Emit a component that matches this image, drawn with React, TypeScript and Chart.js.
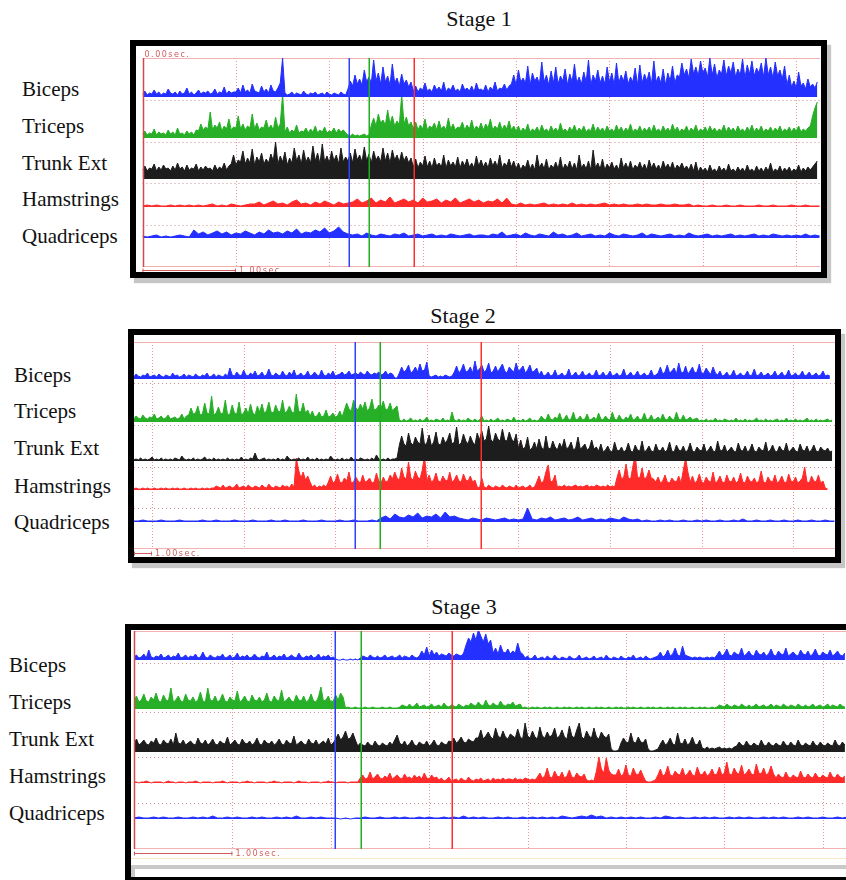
import React, { useEffect, useRef } from "react";
import { Chart, registerables } from "chart.js";

Chart.register(...registerables);

// ---------------- DATA ----------------
const CHANNELS = ["Biceps", "Triceps", "Trunk Ext", "Hamstrings", "Quadriceps"];
const STAGES = ["Stage 1", "Stage 2", "Stage 3"];
// EMG amplitude samples (arbitrary units above each channel's baseline)
const FAST = 0.025; // s between samples for busy channels
const SLOW = 0.05; // s between samples for quiet channels

// ---- Stage 1 (starts at 0.00 s)
const S1_BICEPS = [
  3, 6, 2, 4, 3, 7, 3, 5, 2, 4, 3, 8, 4, 3, 5, 2, 6, 3, 4, 9, 3, 5, 2, 4, 7, 3, 5, 4, 6, 3, 4, 8, 3, 5, 4, 10, 3, 6, 4, 5,
  5, 9, 4, 12, 5, 7, 4, 13, 6, 5, 4, 11, 5, 8, 4, 12, 6, 5, 9, 14,
  39,
  4, 2, 3, 5, 2, 4, 3, 2, 6, 3, 2, 4, 3, 5, 2, 3, 4, 2, 5, 3, 2, 4, 3, 2, 5, 3, 2,
  8, 16, 11, 22, 13, 18, 12, 27, 15, 20, 14, 37, 16, 24, 13, 30, 15, 21, 12, 33, 14, 19, 11, 23, 13, 17, 10, 15,
  6, 11, 5, 9, 7, 14, 6, 8, 5, 12, 7, 10, 6, 15, 5, 9, 7, 12, 6, 8, 5, 13, 7, 9, 6, 11, 5, 14, 7, 8, 6, 12, 5, 10, 7, 15, 6, 9, 8, 13, 7, 11,
  13, 22, 12, 27, 15, 19, 14, 31, 12, 24, 16, 20, 13, 35, 15, 22, 12, 26, 14, 30, 13, 21, 16, 28, 12, 23, 15, 33, 14, 20,
  13, 25, 15, 37, 12, 22, 16, 27, 14, 21, 13, 30, 15, 24, 12, 34, 14, 22, 16, 26, 13, 20, 15, 29, 12, 32, 14, 23, 16, 25,
  13, 36, 15, 21, 14, 28, 12, 24, 16, 31, 14, 22,
  20, 34, 22, 28, 19, 38, 23, 30, 21, 36, 24, 29, 20, 39, 22, 33, 19, 27, 23, 37, 21, 31, 24, 35, 20, 28, 22, 38, 19, 32,
  23, 36, 21, 29, 24, 34, 20, 39, 22, 30, 19, 35, 21, 27, 18, 31,
  12, 22, 10, 16, 9, 25, 11, 14, 8, 18, 10, 13, 9, 15,
];
const S1_TRICEPS = [
  4, 7, 3, 5, 4, 9, 3, 6, 4, 5, 3, 8, 4, 6, 3, 10, 4, 5, 3, 7, 4, 6, 3, 8,
  7, 14, 8, 11, 9, 26, 8, 13, 10, 16, 7, 12, 9, 19, 8, 11, 10, 22, 9, 14, 8, 12, 10, 24, 9, 15, 8, 11, 10, 18, 9, 13, 8, 21, 10, 14,
  44,
  6, 11, 5, 8, 6, 13, 5, 7, 6, 10, 5, 9, 6, 12, 5, 8, 6, 11, 5, 7, 6, 10, 5, 9, 6, 8, 5,
  3, 2, 4, 2, 3, 2, 3, 4, 2, 3,
  13, 20, 12, 24, 15, 18, 13, 28, 14, 22, 12, 17, 13, 43, 14, 21, 12, 16,
  9, 16, 8, 13, 9, 19, 8, 12, 10, 15, 8, 17, 9, 12, 8, 20, 9, 14, 8, 11, 10, 16, 8, 13, 9, 18, 8, 12, 9, 15, 8, 14, 10, 19, 8, 12, 9, 16, 8, 13, 9, 17, 8, 12,
  7, 12, 6, 10, 7, 14, 6, 9, 7, 11, 6, 13, 7, 9, 6, 12, 7, 10, 6, 15, 7, 9, 6, 11, 7, 13, 6, 10, 7, 12, 6, 9, 7, 14, 6, 11, 7, 10, 6, 12,
  7, 9, 6, 13, 7, 11, 6, 10, 7, 14, 6, 9, 7, 12, 6, 10, 7, 11, 6, 13, 7, 9, 6, 12, 7, 10, 6, 14, 7, 11, 6, 9, 7, 12, 6, 10, 7, 13, 6, 9,
  7, 11, 6, 12, 7, 10, 6, 9, 7, 13, 6, 11, 7, 10, 6, 12, 7, 9, 6, 11, 7, 13, 6, 10, 7, 12, 6, 9, 7, 11, 6, 10, 7, 12, 6, 9, 7, 11, 6, 10,
  7, 12, 6, 9, 7, 10,
  12, 22, 30, 36,
];
const S1_TRUNK = [
  9, 13, 8, 11, 10, 15, 8, 12, 9, 14, 10, 11, 8, 13, 9, 16, 10, 12, 8, 14, 9, 11, 10, 15, 8, 12, 9, 13, 10, 11, 8, 14, 9, 12, 10, 16, 9, 13,
  15, 24, 14, 19, 17, 28, 15, 21, 16, 30, 14, 22, 17, 26, 15, 20, 16, 25, 18, 37, 15, 23, 17, 27, 14, 21, 16, 31, 18, 24,
  15, 29, 17, 22, 16, 33, 18, 26, 15, 35, 17, 23, 16, 28, 18, 24, 15, 31, 17, 22,
  18, 26, 16, 30, 19, 24, 17, 32, 18, 25, 16, 28, 19, 23, 17, 31, 18, 26, 16, 29, 19, 24, 17, 27, 18, 23, 16, 21,
  12, 20, 11, 17, 13, 23, 12, 18, 11, 21, 13, 16, 12, 24, 11, 19, 13, 17, 12, 22, 11, 18, 13, 20, 12, 16, 11, 23, 13, 19,
  12, 17, 11, 21, 13, 18, 12, 24, 11, 16, 13, 20, 12, 18,
  10, 16, 9, 14, 11, 19, 10, 15, 9, 24, 11, 16, 10, 20, 9, 14, 11, 17, 10, 22, 9, 15, 11, 18, 10, 16, 9, 24, 11, 15,
  10, 18, 9, 29, 11, 16, 10, 20, 9, 15, 11, 17, 10, 14, 9, 21, 11, 16, 10, 18, 9, 14, 11, 17, 10, 15, 9, 19, 11, 16,
  10, 14, 9, 18, 11, 15, 10, 17, 9, 14, 11, 16, 10, 13, 9, 15,
  8, 17, 7, 12, 8, 11, 7, 14, 8, 10, 7, 13, 8, 11, 7, 15, 8, 10, 7, 12, 8, 11, 7, 14, 8, 10, 7, 13, 8, 11,
  7, 12, 8, 16, 7, 10, 8, 13, 7, 11, 8, 12, 7, 10, 8, 14, 7, 11, 8, 12,
  9, 12, 15, 18,
];
const S1_HAMSTRINGS = [
  1, 2, 1, 2, 1, 1, 2, 1, 2, 1, 2, 1, 2, 1, 2, 3, 1, 2, 1, 3, 2, 1, 2, 3,
  3, 5, 2, 4, 6, 3, 4, 2, 5, 7, 3, 4, 2, 5, 3, 6, 4, 2, 5, 3, 4,
  5, 8, 4, 6, 9, 4, 7, 5, 10, 4, 6, 8, 5, 7, 4, 9, 5, 6, 8, 4, 7, 5, 9, 4, 6, 8, 5, 7, 4, 6, 5, 8, 4, 9,
  3, 2, 4, 2, 3, 2, 3, 4, 2, 3, 2, 3, 2, 4, 2, 3, 2, 3, 2, 3, 4, 2, 3, 2, 3, 2, 2, 3, 2, 3, 2, 2, 3, 2, 2, 3, 2, 2, 3,
  1, 2, 1, 1, 2, 1, 1, 2, 1, 1, 2, 1, 1, 1, 2, 1, 1, 2, 1, 1, 1, 2, 1, 1, 2, 1, 1, 1,
];
const S1_QUADRICEPS = [
  2, 1, 2, 3, 1, 2, 1, 2, 3, 2, 1,
  8, 4, 6, 3, 5, 7, 4, 6, 3, 5, 4, 7, 5, 3, 6, 4, 8, 5, 6, 4, 7, 5, 9, 4, 6, 5, 8, 6, 10, 5, 7, 11, 6, 4,
  3, 4, 2, 5, 3, 2, 4, 3, 2, 4, 3, 5, 2, 3, 4, 2, 3, 4, 2, 3, 2, 4, 3, 2, 3, 4, 2, 3,
  3, 2, 4, 3, 6, 2, 3, 4, 2, 5, 3, 2, 4, 3, 2, 6, 3, 4, 2, 3, 5, 2, 3, 4, 2, 3, 2, 5, 3, 2,
  4, 3, 2, 3, 5, 2, 4, 3, 2, 3, 4, 2, 3, 2, 5, 3, 2, 3, 4, 2, 3, 2, 3, 4, 2, 3, 2, 3, 4, 2,
  3, 2, 4, 3, 2, 3, 2, 3, 2, 4, 2, 3, 2,
];
const S1_STEPS = [FAST, FAST, FAST, SLOW, SLOW];
const S1_EVENTS = [2.21, 2.425, 2.907]; // blue, green, red event markers (s)

// ---- Stage 2 (starts at 0.80 s)
const S2_BICEPS = [
  2, 5, 3, 2, 4, 3, 6, 2, 3, 4, 2, 5, 3, 2, 4, 3, 2, 6, 3, 4, 2, 3, 5, 2, 4, 3, 2, 5, 3, 2, 4, 3, 6, 2, 3, 5, 2, 4, 3, 2, 5, 3,
  11, 4, 3, 7, 4, 3, 9, 4, 3, 6, 4, 8, 3, 4, 7, 3, 4, 10, 4, 3, 6, 4, 3, 8, 4, 3, 7, 4, 9, 3, 4, 6, 3, 4, 8, 3, 4, 7, 4, 3, 9, 4, 3, 6, 4, 8, 3, 4,
  5, 7, 4, 5, 8, 4, 5, 6, 4, 7, 5, 4, 8, 5, 4, 6, 5, 7, 4, 5, 8, 4, 6, 5,
  1, 1,
  6, 12, 7, 9, 14, 6, 8, 12, 7, 15, 8, 9, 17,
  3, 2, 3, 4, 2, 3, 2, 4, 3, 2, 3,
  7, 13, 6, 9, 15, 7, 8, 12, 6, 18, 8, 10, 14, 7, 9, 16, 6, 8, 13, 7, 11, 15, 8, 6, 12, 9, 7, 16, 8, 10, 13, 6, 9, 14, 7, 8, 11,
  4, 8, 3, 4, 7, 3, 4, 9, 3, 4, 6, 3, 4, 10, 3, 4, 7, 3, 4, 8, 3, 4, 6, 3, 4, 9, 3, 4, 7, 3, 4, 8, 3, 4, 6, 3, 4, 10, 3, 4,
  7, 3, 4, 8, 3, 4, 6, 3, 4, 9, 3, 4,
  6, 12, 5, 7, 14, 6, 8, 11, 5, 16, 7, 6, 13, 5, 8, 12, 6, 7, 15, 5, 6, 11, 7, 5, 12, 6,
  4, 8, 3, 4, 7, 3, 4, 9, 3, 4, 6, 3, 4, 8, 3, 4, 10, 3, 4, 7, 3, 4, 6, 3, 4, 8, 3, 4, 7, 3, 4, 9, 3, 4, 6, 3, 4, 8, 3, 4,
  7, 3, 4, 6, 3, 4, 8, 3, 4, 3,
];
const S2_TRICEPS = [
  3, 6, 4, 3, 7, 4, 3, 5, 4, 8, 3, 4, 6, 3, 4, 7, 3, 4, 5, 3, 4, 8, 3, 6,
  7, 14, 8, 9, 16, 7, 8, 19, 9, 8, 26, 7, 9, 15, 8, 9, 22, 7, 8, 17, 9, 8, 20, 7, 9, 14, 8, 18, 9, 7, 16,
  10, 18, 9, 11, 20, 10, 9, 17, 11, 10, 22, 9, 11, 16, 10, 9, 28, 11, 10, 19, 9, 12,
  6, 11, 5, 6, 10, 5, 6, 12, 5, 6, 9, 5, 6, 11, 5,
  12, 19, 13, 11, 22, 14, 12, 18, 13, 20, 11, 14, 23, 12, 13, 17, 14, 21, 12, 13, 19, 11, 14, 16,
  2, 1, 3, 1, 2, 4, 1, 2, 1, 3, 1, 2, 5, 1, 2, 1, 3, 2, 1, 4, 1, 2, 1, 10, 2, 1, 3, 1, 2, 1,
  4, 2, 1, 3, 1, 2, 6, 1, 2, 1, 3, 1, 2, 4, 1, 2, 1, 3, 2, 1, 5, 1, 2, 1, 3, 1, 2, 4, 1, 2, 1,
  2, 6, 3, 2, 8, 3, 2, 5, 3, 9, 2, 3, 7, 2, 3, 10, 2, 3, 6, 2, 3, 8, 2, 3, 5, 2, 9, 3, 2, 6, 3, 2, 10, 3, 2, 7, 3, 2, 5, 3,
  8, 2, 3, 6, 2, 3, 9, 2, 3, 7, 2, 3, 5, 2, 8, 3, 2, 6, 3, 2, 10, 3, 2, 7, 2, 3, 5, 2, 3, 4,
  1, 2, 1, 3, 1, 2, 1, 4, 1, 2, 1, 3, 2, 1, 2, 1, 4, 1, 2, 1, 3, 1, 2, 1, 2, 4, 1, 2, 1, 3,
  1, 2, 1, 2, 3, 1, 2, 1, 4, 1, 2, 1, 3, 1, 2, 1, 2, 4, 1, 2, 1, 3, 1, 2, 1, 2, 3, 1, 2,
];
const S2_TRUNK = [
  1, 2, 1, 3, 1, 2, 1, 2, 4, 1, 2, 1, 3, 1, 2, 1, 2, 1, 3, 2, 1, 5, 2, 1, 2, 1, 3, 1, 2, 1, 2, 4, 1, 2, 1, 3, 1, 2, 1, 2,
  1, 3, 1, 2, 1, 2, 1, 4, 1, 2, 1, 3, 2, 8, 2, 1, 2, 3, 1, 2, 1, 2, 1, 3, 1, 2, 1, 5, 2, 1, 2, 1, 3, 1, 2, 1, 4, 1, 2, 1,
  3, 1, 2, 1, 2, 1, 5, 2, 1, 2, 1, 3, 1, 2, 1, 4, 1, 2, 1, 3, 2, 1, 2, 1, 3, 1, 6, 2, 1, 2, 1, 3, 1, 2, 2, 3,
  16, 25, 17, 15, 28, 18, 16, 24, 19, 17, 33, 16, 18, 26, 15, 19, 29, 17, 16, 24, 18, 21, 28, 17, 19, 34, 16, 18, 27, 20, 17, 25, 19, 16, 28,
  21, 30, 20, 22, 35, 21, 19, 28, 22, 20, 32, 21, 20, 29, 22, 19, 27,
  13, 21, 12, 14, 24, 11, 13, 19, 12, 22, 14, 11, 25, 13, 12, 20, 14, 11, 18, 13, 22, 12, 14, 19, 11, 13, 24, 12, 14, 17, 11, 13, 21, 12, 14,
  10, 17, 9, 11, 15, 10, 9, 19, 11, 10, 14, 9, 11, 18, 10, 9, 16, 11, 10, 20, 9, 11, 15, 10, 9, 17, 11, 10, 14, 9,
  11, 19, 10, 9, 16, 11, 10, 15, 9, 11, 18, 10, 9, 14, 11, 10, 17, 9, 11, 15, 10, 9, 20, 11, 10, 16, 9, 11, 14, 10,
  9, 18, 11, 10, 15, 9, 11, 17, 10, 9, 14, 11, 10, 19, 9, 11, 16, 10, 9, 15, 11, 10, 18, 9, 11, 14, 10, 9, 17, 11,
  10, 15, 9, 11, 16, 10, 9, 14, 11, 10, 13, 9, 10,
];
const S2_HAMSTRINGS = [
  1, 2, 1, 1, 2, 1, 2, 1, 1, 2, 1, 1, 2, 1, 2, 1, 1, 2, 1, 2, 1, 1, 2, 1, 1, 2, 1, 2, 1, 1, 2, 1, 2, 1, 2,
  2, 4, 3, 2, 5, 2, 3, 4, 2, 3, 6, 2, 3, 4, 2, 5, 3, 2, 4, 3, 2, 5, 3, 2, 6, 3, 2, 4, 3, 2, 5, 3, 4, 2, 6, 3,
  32, 20, 12, 18, 10, 14, 8, 3, 5, 2, 4, 3, 5, 3,
  8, 14, 7, 9, 16, 8, 7, 12, 9, 18, 7, 8, 13, 9, 7, 15, 8, 9, 12, 7, 8, 17, 9, 7, 13, 8, 9, 15,
  11, 18, 12, 10, 22, 13, 11, 28, 12, 10, 19, 13, 11, 20, 34,
  9, 15, 8, 10, 17, 9, 8, 14, 10, 9, 18, 8, 10, 15, 9, 8, 16, 10, 9, 14, 8, 10,
  3, 2, 12, 3, 2, 5, 3, 2, 4, 3, 2, 5, 3, 2, 4, 3, 2, 5, 2, 3, 4, 2, 3, 5, 2, 3,
  8, 14, 7, 9, 18, 25, 8, 9, 15,
  3, 4, 3, 5, 3, 4, 3, 4, 5, 3, 4, 3, 4, 5, 3, 4, 3, 5, 4, 3, 4, 3, 5, 3, 4, 3,
  12, 20, 11, 13, 26, 12, 11, 24, 35, 13, 12, 22, 11, 13, 20, 12, 11,
  8, 13, 7, 9, 15, 8, 7, 12, 9, 8, 14, 7,
  20, 32, 18,
  8, 14, 7, 9, 16, 8, 7, 13, 9, 8, 18, 7, 9, 14, 8, 7, 15, 9, 8, 13, 7, 9, 17, 8, 7, 14, 9, 8, 12, 7,
  9, 19, 8, 7, 13, 9, 8, 15, 7, 9, 14, 8, 7, 16, 9, 8, 13, 7, 9, 12, 23, 8, 7, 14, 9, 8, 15, 7, 9,
  2, 1,
];
const S2_QUADRICEPS = [
  1, 1, 2, 1, 1, 1, 2, 1, 1, 1, 2, 1, 1, 1, 1, 2, 1, 1, 2, 1,
  1, 1, 2, 1, 1, 1, 2, 1, 1, 1, 2, 1, 1, 2, 1, 1, 1, 2, 1, 1,
  1, 2, 1, 1, 1, 2, 1, 1, 2, 1, 1, 1, 2, 1,
  4, 6, 3, 8, 5, 4, 7, 5, 9, 4, 6, 5, 8, 4, 10, 5, 6, 4,
  3, 2, 4, 3, 2, 4, 3, 2, 3, 4, 2, 3, 2, 3, 14,
  3, 2, 4, 3, 5, 2, 3, 4, 2, 3, 5, 2, 3, 4, 2, 3, 2, 4, 3, 2, 5, 3, 2, 3,
  1, 2, 1, 1, 2, 1, 2, 1, 1, 2, 1, 1, 2, 1, 2, 1, 1, 2, 1, 1,
  2, 1, 3, 1, 1, 2, 1, 1, 2, 1, 1, 2, 1, 1, 2, 1, 1, 2, 1, 1, 2, 1, 1,
];
const S2_STEPS = [FAST, FAST, FAST, FAST, SLOW];
const S2_EVENTS = [3.216, 3.489, 4.59];

// ---- Stage 3 (starts at 0.00 s)
const S3_BICEPS = [
  3, 5, 2, 3, 6, 2, 10, 3, 2, 4, 3, 6, 2, 3, 5, 2, 4, 3, 7, 2, 3, 5, 2, 4, 3, 6, 2, 3, 8, 3, 2, 5, 3, 2, 4, 3, 6, 2, 3, 5,
  2, 3, 7, 2, 4, 3, 5, 2, 3, 6, 3, 2, 4, 3, 8, 2, 3, 5, 2, 4, 3, 6, 2, 3, 5, 3, 2, 7, 3, 2, 4, 3, 5, 2, 3, 6, 2, 4, 3, 5,
  2, 3,
  1, 0, 0, 1, 0, 0, 1, 0, 1, 0,
  2, 4, 3, 2, 5, 3, 2, 4, 2, 3, 5, 2, 3, 4, 2, 3, 5, 2, 4, 3, 2, 5, 3, 2,
  4, 9, 5, 13, 4, 10, 5, 8,
  4, 6, 5, 4, 7, 5, 4, 6, 5, 4, 7,
  15, 22, 18, 27, 20, 30, 24, 18, 26, 16, 20,
  7, 12, 6, 15, 8, 7, 11, 6, 9, 7, 17, 8, 6,
  2, 4, 1, 2, 5, 1, 2, 3, 1, 4, 2, 1, 5, 2, 1, 3, 2, 1, 4, 2, 1, 2, 5, 1, 2, 3, 1, 2, 4, 1,
  2, 3, 1, 5, 2, 1, 3, 2, 1, 4, 2, 1, 3, 2, 5, 1, 2, 3, 1, 4, 2, 1, 2, 3,
  4, 8, 3, 5, 10, 4, 6, 12, 5, 4, 14, 5, 4,
  3, 2, 3, 2, 3, 2, 2, 3, 2, 3, 2,
  5, 9, 4, 6, 11, 5, 4, 8, 6, 5, 12, 4, 6, 9, 5, 4, 10, 6, 5, 8, 4, 6, 11, 5, 4, 9, 6, 5, 12, 4,
  6, 8, 5, 4, 10, 6, 5, 9, 4, 6, 11, 5, 4, 8, 6, 5, 10, 4, 6, 9, 5, 4, 7,
];
const S3_TRICEPS = [
  8, 13, 7, 9, 15, 8, 7, 12, 9, 16, 8, 7, 14, 9, 8, 21, 7, 9, 13, 8, 7, 15, 9, 8, 12, 7, 9, 17, 8, 7,
  21, 9, 8, 13, 7, 9, 15, 8, 7, 12, 9, 8, 18, 7, 9, 13, 8, 7, 14, 9, 8, 12, 7, 9, 16, 8, 7, 13, 9, 8,
  19, 7, 9, 12, 8, 7, 14, 9, 8, 13, 7, 9, 15, 8, 7, 12, 22, 8, 9, 13, 7, 8, 14, 9,
  16, 12,
  1, 2, 1, 1, 2, 1, 1, 1, 2, 1, 1, 2, 1, 1, 1, 2, 1, 1, 2, 1, 1, 1,
  2, 4, 3, 2, 5, 2, 3, 6, 2, 3, 4, 2, 3, 5, 2, 3, 4, 2, 6, 3, 2, 4, 3, 2, 5, 3, 2, 4,
  3, 6, 4, 3, 7, 4, 3, 9, 4, 3, 6, 4, 3, 8, 4, 3, 5, 4, 7, 3, 4, 5,
  1, 2, 1, 1, 2, 1, 2, 1, 1, 2, 1, 2, 1, 1, 2, 1, 1, 2, 1, 2, 1, 1, 2, 1, 2, 1, 1, 2, 1, 1,
  2, 1, 2, 1, 1, 2, 1, 1, 2, 1, 2, 1, 1, 2, 1, 2, 1, 1, 2, 1, 1, 2, 1, 2, 1, 1, 2, 1, 1, 2,
  1, 2, 1, 1, 2, 1, 2, 1, 1, 2, 1, 1, 2, 1, 2, 1, 1, 2, 1,
  2, 4, 3, 2, 5, 3, 2, 4, 3, 2, 5, 3, 2, 4, 2, 3, 5, 2, 3, 4, 2, 3, 5, 2, 4, 3, 2, 5, 3, 2,
  4, 3, 2, 5, 3, 2, 4, 2, 3, 5, 2, 3, 4, 2, 3, 5, 2, 4, 3, 2, 5, 3, 2,
];
const S3_TRUNK = [
  8, 13, 7, 9, 12, 8, 7, 11, 9, 14, 8, 7, 12, 9, 8, 13, 7, 19, 9, 8, 12, 7, 9, 11, 8, 7, 14, 9, 8, 12,
  7, 9, 13, 8, 7, 11, 9, 8, 15, 7, 9, 12, 8, 7, 13, 9, 8, 11, 7, 9, 14, 8, 7, 12, 9, 8, 11, 7, 9, 13,
  8, 7, 12, 9, 8, 16, 7, 9, 11, 8, 7, 13, 9, 8, 12, 7, 9, 11, 8, 14, 7, 9,
  13, 18, 12, 15, 21, 13, 14, 19, 12,
  6, 9, 7, 6, 10, 7, 6, 11, 7, 6, 9, 7, 6, 10, 7,
  12, 17, 9,
  7, 11, 6, 8, 12, 7, 6, 10, 8, 7, 11, 6, 8, 12, 7, 6, 10, 8, 7, 11,
  10, 14, 9, 11, 15, 10, 9, 13, 11, 10, 14,
  14, 22, 13, 16, 20, 15, 13, 24, 16, 14, 21, 15, 13, 18, 16, 14, 23, 15, 13, 29, 16, 14, 21, 15, 13, 25, 16, 14, 20, 15,
  17, 24, 14, 16, 22, 15, 13, 26, 16, 14, 22, 29, 15, 13, 21, 16, 14, 24, 15, 13, 20, 16, 14, 18,
  3, 1, 1, 2,
  9, 14, 10, 9, 19, 10, 9, 15, 10, 9, 13,
  3, 1, 1, 2, 3,
  8, 12, 7, 9, 14, 8, 7, 19, 9, 8, 13, 7, 9, 15, 8, 7, 12,
  4, 3, 5, 3, 4, 3, 4, 5, 3, 4, 3, 4, 3, 5,
  6, 10, 7, 6, 11, 7, 6, 9, 7, 6, 12, 7, 6, 10, 7, 6, 9, 7, 6, 11, 7, 6, 10, 7, 6, 12, 7, 6, 9, 7,
  6, 11, 7, 6, 10, 7, 6, 9, 7, 6, 12, 7, 6, 10, 7,
];
const S3_HAMSTRINGS = [
  1, 1, 0, 1, 1, 2, 1, 0, 1, 1, 1, 1, 0, 1, 2, 1, 1, 0, 1, 1, 1, 0, 1, 1, 1, 2, 1, 0, 1, 1,
  1, 1, 0, 1, 1, 1, 2, 1, 0, 1, 1, 1, 1, 0, 1, 1, 2, 1, 1, 0, 1, 1, 1, 1, 0, 1, 1, 2, 1, 1,
  0, 1, 1, 1, 1, 0, 1, 2, 1, 1, 1, 0, 1, 1, 1, 1, 0, 1, 1, 2, 1, 1, 0, 1, 1, 1, 1, 0, 1, 1,
  1, 1,
  5, 8, 4, 5, 11, 4, 6, 9, 5, 4, 7, 5, 10, 4, 6, 8, 5, 4, 9, 5, 6, 4, 8, 5, 7, 4, 10, 5, 4, 8, 5, 6,
  3, 5, 2, 3, 6, 2, 3, 4, 2, 5, 3, 2, 6, 3, 2, 4, 3, 5, 2, 3, 4, 2, 5, 3,
  4, 3, 5, 3, 4, 4, 3, 5, 3, 4, 3, 5, 4, 3, 4, 3,
  6, 10, 5, 7, 15, 6, 5, 12, 7, 6, 11, 5, 7, 13, 6, 5, 10, 7, 6, 9,
  3, 2, 3, 2,
  12, 26, 14, 10, 25, 13, 9, 8,
  8, 14, 7, 9, 18, 8, 7, 15, 9, 8, 13, 7,
  2, 1, 1, 2, 3,
  8, 14, 7, 9, 17, 8, 7, 12, 9, 8, 15, 7, 9, 13, 8, 7, 16, 9, 8, 12, 7, 9, 14, 8,
  9, 16, 8, 10, 21, 9, 8, 15, 10, 9, 18, 8, 10, 14, 9, 8, 19, 10, 9, 15, 8, 10, 17, 9,
  5, 9, 6, 5, 11, 6, 5, 8, 6, 5, 12, 6, 5, 9, 6, 5, 10, 6, 5, 8, 6, 5, 11, 6, 5, 9, 6, 5, 7,
];
const S3_QUADRICEPS = [
  1, 2, 1, 1, 2, 1, 2, 1, 1, 2, 1, 1, 2, 1, 2, 1, 3, 1, 1, 2,
  1, 2, 1, 1, 2, 1, 2, 1, 1, 2, 1, 2, 1, 3, 1, 1, 2, 1, 2, 1,
  1, 1, 0, 1, 0, 1, 1, 2, 1, 1, 2, 1, 1, 2, 1, 2, 1, 1, 2, 1,
  2, 1, 1, 2, 1, 2, 1, 3, 1, 2, 1, 2, 1, 1, 2, 1, 2, 1, 1, 2,
  1, 2, 1, 2, 1, 2, 1, 3, 2, 1, 2, 3, 2, 4, 2, 3, 1, 2, 1, 2,
  1, 2, 1, 2, 1, 1, 2, 1, 3, 2, 1, 2, 1, 1, 2, 1, 2, 1, 2, 1,
  1, 2, 1, 2, 1, 2, 1, 1, 2, 1, 2, 1, 2, 1, 1, 2, 1, 2, 1, 1,
  2, 1, 1, 2, 1, 2, 1,
];
const S3_STEPS = [FAST, FAST, FAST, FAST, SLOW];
const S3_EVENTS = [2.043, 2.307, 3.232];

const TIME_BAR_LABEL = "1.00sec.";
const ZERO_LABEL = "0.00sec.";

// ---------------- STYLE / LAYOUT ----------------
const TRACE_COLORS = ["#2430ff", "#27b027", "#1d1d1d", "#ff2b2b", "#2430ff"];
const EVENT_COLORS = ["#3040ff", "#1fae1f", "#ff2d2d"];
const SERIF = "'Liberation Serif', 'Times New Roman', serif";

type Rect = { left: number; top: number; width: number; height: number };
type Panel = {
  title: string;
  titleCenter: number;
  titleBase: number;
  labelX: number;
  labelBases: number[];
  frame: Rect;
  plot: { left: number; right: number; top: number; bottom: number };
  tStart: number;
  tMin: number;
  tMax: number;
  baselines: number[];
  dotted: number[];
  series: number[][];
  steps: number[];
  events: number[];
  leftRed: boolean;
  barY: number;
  zeroLabel: boolean;
  footer: boolean;
};

const BORDER = 6;

const PANELS: Panel[] = [
  {
    title: STAGES[0],
    titleCenter: 479,
    titleBase: 26,
    labelX: 22,
    labelBases: [97, 134, 171, 207, 244],
    frame: { left: 130, top: 40, width: 697, height: 238 },
    plot: { left: 142.5, right: 820, top: 58, bottom: 267 },
    tStart: 0,
    tMin: 0,
    tMax: 7.254,
    baselines: [97, 138, 179, 207, 238],
    dotted: [100, 142, 183, 225],
    series: [S1_BICEPS, S1_TRICEPS, S1_TRUNK, S1_HAMSTRINGS, S1_QUADRICEPS],
    steps: S1_STEPS,
    events: S1_EVENTS,
    leftRed: true,
    barY: 270,
    zeroLabel: true,
    footer: false,
  },
  {
    title: STAGES[1],
    titleCenter: 463,
    titleBase: 323,
    labelX: 14,
    labelBases: [383, 419, 456, 494, 530],
    frame: { left: 128, top: 329, width: 713, height: 234 },
    plot: { left: 134, right: 835, top: 342, bottom: 549 },
    tStart: 0.8,
    tMin: 0.803,
    tMax: 8.456,
    baselines: [379, 422, 461, 490, 522],
    dotted: [383, 425, 467, 508],
    series: [S2_BICEPS, S2_TRICEPS, S2_TRUNK, S2_HAMSTRINGS, S2_QUADRICEPS],
    steps: S2_STEPS,
    events: S2_EVENTS,
    leftRed: false,
    barY: 553,
    zeroLabel: false,
    footer: false,
  },
  {
    title: STAGES[2],
    titleCenter: 464,
    titleBase: 614,
    labelX: 9,
    labelBases: [673, 710, 747, 784, 821],
    frame: { left: 125, top: 624, width: 745, height: 258 },
    plot: { left: 134, right: 850, top: 631, bottom: 849 },
    tStart: 0,
    tMin: 0,
    tMax: 7.277,
    baselines: [660, 709, 752, 783, 819],
    dotted: [663, 712, 757, 803],
    series: [S3_BICEPS, S3_TRICEPS, S3_TRUNK, S3_HAMSTRINGS, S3_QUADRICEPS],
    steps: S3_STEPS,
    events: S3_EVENTS,
    leftRed: true,
    barY: 853,
    zeroLabel: false,
    footer: true,
  },
];

function PanelChart({ p }: { p: Panel }) {
  const ref = useRef<HTMLCanvasElement>(null);
  const cLeft = p.frame.left + BORDER;
  const cTop = p.frame.top + BORDER;
  const cW = p.frame.width - 2 * BORDER;
  const cH = p.frame.height - 2 * BORDER;

  useEffect(() => {
    const canvas = ref.current;
    if (!canvas) return;
    const yMax = p.plot.bottom - p.plot.top;
    const toVal = (py: number) => p.plot.bottom - py;

    const datasets = p.series.map((amps, k) => {
      const base = toVal(p.baselines[k]);
      const step = p.steps[k];
      return {
        label: CHANNELS[k],
        data: amps.map((v, i) => ({ x: p.tStart + i * step, y: base + v })),
        borderColor: TRACE_COLORS[k],
        backgroundColor: TRACE_COLORS[k],
        borderWidth: 1,
        pointRadius: 0,
        tension: 0,
        fill: { value: base },
      };
    });

    const decor = {
      id: "emgDecor",
      beforeDatasetsDraw(chart: any) {
        const { ctx, chartArea: a } = chart;
        const xs = chart.scales.x;
        const ys = chart.scales.y;
        ctx.save();
        ctx.lineWidth = 1;
        ctx.setLineDash([1, 2]);
        ctx.strokeStyle = "rgba(232,120,120,0.8)";
        for (let s = Math.ceil(p.tMin); s <= p.tMax; s++) {
          const px = Math.round(xs.getPixelForValue(s)) + 0.5;
          ctx.beginPath();
          ctx.moveTo(px, a.top);
          ctx.lineTo(px, a.bottom);
          ctx.stroke();
        }
        ctx.setLineDash([1, 3]);
        ctx.strokeStyle = "rgba(205,140,140,0.95)";
        for (const py0 of p.dotted) {
          const py = Math.round(ys.getPixelForValue(toVal(py0))) + 0.5;
          ctx.beginPath();
          ctx.moveTo(a.left, py);
          ctx.lineTo(a.right, py);
          ctx.stroke();
        }
        ctx.setLineDash([]);
        ctx.strokeStyle = "#f2b2b2";
        ctx.beginPath();
        ctx.moveTo(a.left, a.top + 0.5);
        ctx.lineTo(a.right, a.top + 0.5);
        ctx.moveTo(a.left, a.bottom - 0.5);
        ctx.lineTo(a.right, a.bottom - 0.5);
        ctx.stroke();
        ctx.restore();
      },
      afterDatasetsDraw(chart: any) {
        const { ctx, chartArea: a } = chart;
        const xs = chart.scales.x;
        ctx.save();
        ctx.lineWidth = 1.5;
        p.events.forEach((t, k) => {
          const px = Math.round(xs.getPixelForValue(t)) + 0.25;
          ctx.strokeStyle = EVENT_COLORS[k];
          ctx.beginPath();
          ctx.moveTo(px, a.top);
          ctx.lineTo(px, a.bottom);
          ctx.stroke();
        });
        if (p.leftRed) {
          const px = Math.round(xs.getPixelForValue(0)) + 0.5;
          ctx.strokeStyle = "#d24a4a";
          ctx.beginPath();
          ctx.moveTo(px, a.top);
          ctx.lineTo(px, a.bottom);
          ctx.stroke();
        }
        const barY = a.bottom + (p.barY - p.plot.bottom) + 0.5;
        const x0 = Math.max(a.left, xs.getPixelForValue(Math.max(p.tMin, 0)));
        const firstSec = Math.ceil(p.tMin) === 0 ? 1 : Math.ceil(p.tMin);
        const x1 = xs.getPixelForValue(firstSec);
        ctx.lineWidth = 1;
        ctx.strokeStyle = "#d15c5c";
        ctx.beginPath();
        ctx.moveTo(x0, barY);
        ctx.lineTo(x1, barY);
        ctx.moveTo(x0 + 0.5, barY - 2);
        ctx.lineTo(x0 + 0.5, barY + 2);
        ctx.moveTo(x1 - 0.5, barY - 2);
        ctx.lineTo(x1 - 0.5, barY + 2);
        ctx.stroke();
        ctx.fillStyle = "#d15c5c";
        ctx.font = "8px 'DejaVu Sans', sans-serif";
        (ctx as any).letterSpacing = "1.5px";
        ctx.textBaseline = "middle";
        ctx.fillText(TIME_BAR_LABEL, x1 + 3, barY + 0.5);
        if (p.zeroLabel) {
          ctx.textBaseline = "alphabetic";
          ctx.fillText(ZERO_LABEL, a.left + 2, a.top - 1);
        }
        ctx.restore();
      },
    };

    const chart = new Chart(canvas, {
      type: "line",
      data: { datasets } as any,
      options: {
        animation: false,
        responsive: false,
        events: [],
        layout: {
          padding: {
            left: p.plot.left - cLeft,
            right: cLeft + cW - p.plot.right,
            top: p.plot.top - cTop,
            bottom: cTop + cH - p.plot.bottom,
          },
        },
        scales: {
          x: { type: "linear", display: false, min: p.tMin, max: p.tMax },
          y: { type: "linear", display: false, min: 0, max: yMax },
        },
        plugins: {
          legend: { display: false },
          tooltip: { enabled: false },
        },
      } as any,
      plugins: [decor],
    });
    return () => chart.destroy();
  }, [p]);

  return (
    <>
      <div
        style={{
          position: "absolute",
          left: p.frame.left,
          top: p.frame.top,
          width: p.frame.width,
          height: p.frame.height,
          boxSizing: "border-box",
          border: `${BORDER}px solid #000`,
          background: "#fff",
          boxShadow: "4px 5px 1px #c6c6c6",
        }}
      />
      <canvas
        ref={ref}
        width={cW}
        height={cH}
        style={{ position: "absolute", left: cLeft, top: cTop, width: cW, height: cH }}
      />
      {p.footer && (
        <>
          <div style={{ position: "absolute", left: cLeft, top: 858, width: cW, height: 1, background: "#f6e9c6" }} />
          <div style={{ position: "absolute", left: cLeft, top: 865, width: cW, height: 12, background: "#c9c9c9" }} />
          <div style={{ position: "absolute", left: cLeft + 4, top: 869, width: cW, height: 8, background: "#fff" }} />
        </>
      )}
      <div
        style={{
          position: "absolute",
          left: p.titleCenter - 100,
          width: 200,
          top: p.titleBase - 18.4,
          textAlign: "center",
          fontFamily: SERIF,
          fontSize: 22,
          lineHeight: "22px",
          color: "#111",
          whiteSpace: "nowrap",
        }}
      >
        {p.title}
      </div>
      {CHANNELS.map((name, k) => (
        <div
          key={name}
          style={{
            position: "absolute",
            left: p.labelX,
            top: p.labelBases[k] - 17.6,
            fontFamily: SERIF,
            fontSize: 21,
            lineHeight: "21px",
            color: "#111",
            whiteSpace: "nowrap",
          }}
        >
          {name}
        </div>
      ))}
    </>
  );
}

export default function App() {
  return (
    <div
      style={{
        position: "fixed",
        left: 0,
        top: 0,
        width: 846,
        height: 880,
        overflow: "hidden",
        background: "#fff",
      }}
    >
      {PANELS.map((p) => (
        <PanelChart key={p.title} p={p} />
      ))}
    </div>
  );
}
